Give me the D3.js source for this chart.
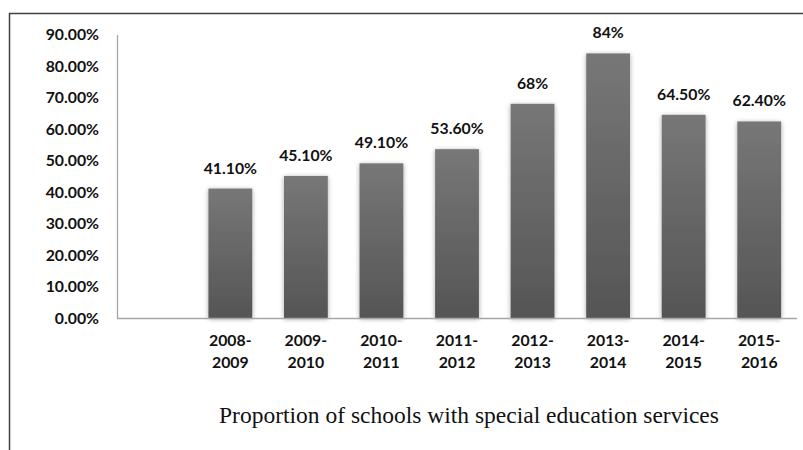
<!DOCTYPE html>
<html>
<head>
<meta charset="utf-8">
<script src="https://cdn.jsdelivr.net/npm/d3@7/dist/d3.min.js"></script>
<style>
  html, body { margin: 0; padding: 0; background: #fff; }
  svg { display: block; }
</style>
</head>
<body>
<svg id="chart" width="803" height="450"></svg>
<script>
// School years (a blank leading slot keeps the first column empty)
const categories = ["", "2008-2009", "2009-2010", "2010-2011", "2011-2012", "2012-2013", "2013-2014", "2014-2015", "2015-2016"];
// Share of schools offering special education services (%)
const values = [null, 41.1, 45.1, 49.1, 53.6, 68, 84, 64.5, 62.4];
// Labels printed above each bar
const valueLabels = ["", "41.10%", "45.10%", "49.10%", "53.60%", "68%", "84%", "64.50%", "62.40%"];
// Y axis ticks
const yTicks = [0, 10, 20, 30, 40, 50, 60, 70, 80, 90];
const title = "Proportion of schools with special education services";

const svg = d3.select("#chart");
const W = 803, H = 450;
const plotLeft = 117, plotRight = 797, plotTop = 34.5, plotBottom = 318;

const labelFont = "Lato, 'Open Sans', 'DejaVu Sans', sans-serif";
const labelSize = 15.8;

// Outer frame (runs off the right and bottom edges)
svg.append("path")
  .attr("d", `M9.5,${H + 2} L9.5,13.5 L${W + 2},13.5`)
  .attr("fill", "none")
  .attr("stroke", "#404040")
  .attr("stroke-width", 1.5);

const defs = svg.append("defs");
const grad = defs.append("linearGradient")
  .attr("id", "barFill").attr("x1", 0).attr("y1", 0).attr("x2", 0).attr("y2", 1);
grad.append("stop").attr("offset", "0%").attr("stop-color", "#777777");
grad.append("stop").attr("offset", "100%").attr("stop-color", "#555555");

const shadow = defs.append("filter").attr("id", "barShadow")
  .attr("x", "-30%").attr("y", "-10%").attr("width", "160%").attr("height", "120%");
shadow.append("feGaussianBlur").attr("in", "SourceAlpha").attr("stdDeviation", 2.5).attr("result", "blur");
shadow.append("feOffset").attr("in", "blur").attr("dx", 0).attr("dy", 1).attr("result", "off");
shadow.append("feComponentTransfer").attr("in", "off").attr("result", "soft")
  .append("feFuncA").attr("type", "linear").attr("slope", 0.35);
const merge = shadow.append("feMerge");
merge.append("feMergeNode").attr("in", "soft");
merge.append("feMergeNode").attr("in", "SourceGraphic");

const x = d3.scaleBand().domain(categories.map((c, i) => i)).range([plotLeft, plotRight]).paddingInner(0.42).paddingOuter(0.21);
const y = d3.scaleLinear().domain([0, 90]).range([plotBottom, plotTop]);

// Y axis
const yAxis = svg.append("g")
  .attr("transform", `translate(${plotLeft},0)`)
  .call(d3.axisLeft(y).tickValues(yTicks).tickSize(0).tickPadding(18)
    .tickFormat(d => d.toFixed(2) + "%"));
yAxis.select(".domain").attr("stroke", "#a6a6a6").attr("stroke-width", 1.3);
yAxis.selectAll("text")
  .attr("font-family", labelFont).attr("font-weight", "bold")
  .attr("font-size", labelSize).attr("fill", "#111");

// Bars
svg.append("g").selectAll("rect")
  .data(values.map((v, i) => ({ v, i })).filter(d => d.v !== null))
  .join("rect")
  .attr("x", d => x(d.i))
  .attr("width", x.bandwidth())
  .attr("y", d => y(d.v))
  .attr("height", d => y(0) - y(d.v))
  .attr("fill", "url(#barFill)")
  .attr("filter", "url(#barShadow)");

// X axis baseline
svg.append("line")
  .attr("x1", plotLeft).attr("x2", plotRight)
  .attr("y1", y(0) + 0.5).attr("y2", y(0) + 0.5)
  .attr("stroke", "#a6a6a6").attr("stroke-width", 1.3);

// Value labels
svg.append("g").selectAll("text")
  .data(values.map((v, i) => ({ v, i })).filter(d => d.v !== null))
  .join("text")
  .attr("x", d => x(d.i) + x.bandwidth() / 2)
  .attr("y", d => y(d.v) - 15)
  .attr("text-anchor", "middle")
  .attr("font-family", labelFont).attr("font-weight", "bold")
  .attr("font-size", labelSize).attr("fill", "#111")
  .text(d => valueLabels[d.i]);

// Category labels (split onto two lines after the hyphen)
const catG = svg.append("g").selectAll("text")
  .data(categories.map((c, i) => ({ c, i })).filter(d => d.c))
  .join("text")
  .attr("text-anchor", "middle")
  .attr("font-family", labelFont).attr("font-weight", "bold")
  .attr("font-size", labelSize).attr("fill", "#111");
catG.each(function (d) {
  const parts = d.c.split("-");
  const t = d3.select(this);
  const cx = x(d.i) + x.bandwidth() / 2;
  t.append("tspan").attr("x", cx).attr("y", 346).text(parts[0] + "-");
  t.append("tspan").attr("x", cx).attr("y", 368).text(parts[1]);
});

// Title below the chart
svg.append("text")
  .attr("x", 469).attr("y", 423)
  .attr("text-anchor", "middle")
  .attr("font-family", "'Liberation Serif', 'Times New Roman', serif")
  .attr("font-size", 23.5).attr("fill", "#111")
  .text(title);
</script>
</body>
</html>
